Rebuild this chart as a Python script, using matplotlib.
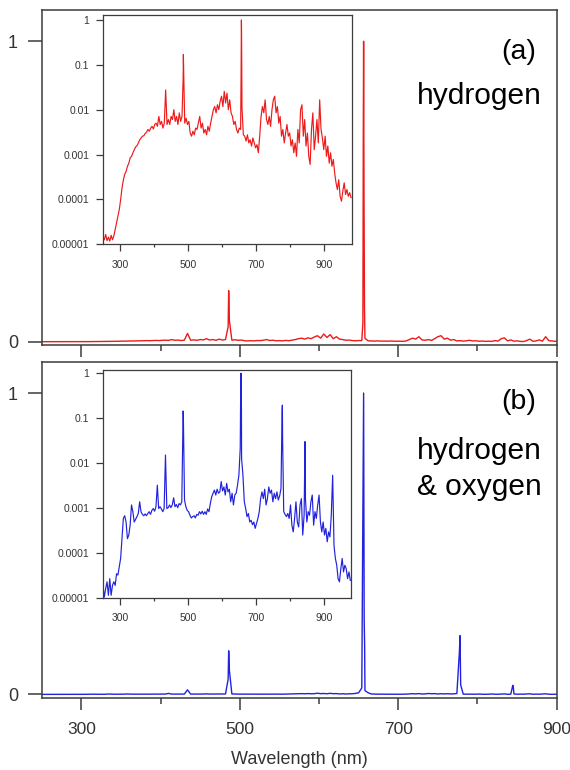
import numpy as np
import matplotlib
matplotlib.use("Agg")
import matplotlib.pyplot as plt
from matplotlib.ticker import FixedLocator, NullLocator, FixedFormatter, NullFormatter

# ---------------- data (log10 of normalised intensity) ----------------
wl_grid = np.arange(250, 979, 4)  # sampling wavelengths (nm)

# (a) hydrogen : continuum + lines on the 4 nm grid
h_cont_log = [
    -4.85, -4.90, -4.78, -4.92, -4.84, -4.93, -4.80, -4.90, -4.81, -4.67,   # 250-286
    -4.52, -4.37, -4.22, -4.00, -3.74, -3.56, -3.44, -3.37, -3.26, -3.19,   # 290-326
    -3.07, -3.04, -2.96, -2.89, -2.83, -2.80, -2.74, -2.67, -2.63, -2.59,   # 330-366
    -2.58, -2.53, -2.50, -2.44, -2.48, -2.41, -2.37, -2.43, -2.33, -2.30,   # 370-406
    -2.37, -2.15, -2.33, -2.26, -2.41, -2.30, -1.56, -2.33, -2.22, -2.33,   # 410-446
    -2.15, -2.22, -2.00, -2.26, -2.15, -2.33, -2.07, -2.26, -2.15, -0.77,   # 450-486
    -2.30, -2.19, -2.33, -2.26, -2.52, -2.59, -2.48, -2.56, -2.41, -2.44,   # 490-526
    -2.30, -2.15, -2.41, -2.30, -2.52, -2.44, -2.56, -2.37, -2.48, -2.30,   # 530-566
    -2.15, -2.00, -1.93, -2.07, -1.89, -2.00, -1.81, -1.70, -1.93, -1.59,   # 570-606
    -1.85, -1.63, -2.00, -1.78, -2.07, -2.15, -2.33, -2.26, -2.44, -2.52,   # 610-646
    -2.41, -2.44, -1.95, -2.56, -2.59, -2.70, -2.56, -2.74, -2.67, -2.81,   # 650-686
    -2.63, -2.74, -2.85, -2.78, -2.96, -2.59, -2.15, -1.93, -2.07, -1.78,   # 690-726
    -2.22, -2.33, -2.15, -2.37, -2.00, -1.78, -1.70, -2.07, -1.93, -2.30,   # 730-766
    -2.15, -2.59, -2.44, -2.74, -2.52, -2.33, -2.59, -2.52, -2.81, -2.67,   # 770-806
    -2.96, -2.74, -3.04, -2.44, -2.74, -2.00, -1.89, -2.59, -2.22, -2.81,   # 810-846
    -2.52, -3.04, -3.22, -2.44, -2.07, -2.89, -2.59, -2.22, -2.74, -1.78,   # 850-886
    -2.44, -2.63, -2.89, -2.59, -3.04, -2.81, -3.19, -2.96, -3.26, -3.11,   # 890-926
    -3.41, -3.63, -3.78, -3.56, -3.93, -4.04, -3.81, -3.63, -3.89, -3.78,   # 930-966
    -3.93, -3.85, -3.96,                                                    # 970-978
]
h_line_wl = [485.3, 486.9, 655.4, 655.9, 656.3, 656.8, 657.4]
h_line_log = [-1.30, -1.15, -1.20, -0.16, 0.00, -0.31, -0.96]

# (b) hydrogen & oxygen
ho_cont_log = [
    -4.72, -4.98, -4.79, -4.64, -4.94, -4.57, -4.94, -4.72, -4.64, -4.72,   # 250-286
    -4.46, -4.49, -4.31, -4.12, -3.68, -3.23, -3.17, -3.31, -3.68, -3.60,   # 290-326
    -3.38, -2.93, -3.08, -3.31, -3.25, -3.19, -3.12, -2.86, -3.08, -3.14,   # 330-366
    -3.17, -3.13, -3.17, -3.12, -3.08, -3.14, -3.05, -3.01, -3.07, -2.97,   # 370-406
    -2.49, -3.01, -2.97, -3.02, -3.08, -3.01, -1.82, -3.01, -2.99, -2.93,   # 410-446
    -2.99, -2.93, -2.77, -2.97, -2.92, -2.99, -2.90, -2.93, -2.86, -0.84,   # 450-486
    -2.82, -2.97, -3.05, -3.08, -3.16, -3.22, -3.19, -3.17, -3.22, -3.14,   # 490-526
    -3.16, -3.08, -3.13, -3.07, -3.14, -3.08, -3.14, -3.02, -3.08, -2.90,   # 530-566
    -2.75, -2.67, -2.60, -2.71, -2.58, -2.67, -2.64, -2.41, -2.62, -2.53,   # 570-606
    -2.71, -2.45, -2.64, -2.58, -2.86, -2.67, -2.93, -2.71, -2.67, -2.49,   # 610-646
    -2.27, -1.67, -1.90, -2.27, -2.86, -3.01, -3.19, -3.12, -3.31, -3.27,   # 650-686
    -3.37, -3.31, -3.45, -3.34, -3.23, -3.08, -2.79, -2.64, -2.79, -2.58,   # 690-726
    -2.93, -2.79, -2.53, -2.67, -2.60, -2.86, -2.67, -2.79, -2.64, -2.82,   # 730-766
    -2.73, -2.56, -0.71, -3.08, -3.14, -3.19, -3.12, -3.23, -2.93, -3.38,   # 770-806
    -3.53, -3.23, -2.86, -3.31, -3.42, -2.93, -2.79, -3.60, -3.16, -2.80,   # 810-846
    -3.31, -3.08, -3.16, -2.86, -2.71, -3.38, -3.08, -3.23, -2.93, -2.71,   # 850-886
    -3.31, -3.53, -3.31, -3.60, -3.45, -3.75, -3.53, -3.64, -3.16, -2.27,   # 890-926
    -3.83, -4.12, -4.27, -4.57, -4.64, -4.35, -4.12, -4.42, -4.27, -4.35,   # 930-966
    -4.57, -4.42, -4.61,                                                    # 970-978
]
ho_line_wl = [485.3, 486.9, 655.5, 656.3, 657.0, 657.6, 777.2, 778.8, 844.6, 845.3]
ho_line_log = [-1.30, -1.10, -0.20, 0.00, -0.60, -0.80, -0.85, -1.50, -1.52, -1.65]

main_xticks = [300, 500, 700, 900]
main_xminor = [400, 600, 800]
main_yticks = [0, 1]
inset_yticks = [1, 0.1, 0.01, 0.001, 0.0001, 0.00001]
inset_ylabels = ["1", "0.1", "0.01", "0.001", "0.0001", "0.00001"]
panel_tags = ["(a)", "(b)"]


def build(cont, lwl, llog):
    wl = np.concatenate([wl_grid, np.array(lwl, float)])
    lg = np.concatenate([np.array(cont, float), np.array(llog, float)])
    o = np.argsort(wl)
    return wl[o], 10.0 ** lg[o]


h_wl, h_I = build(h_cont_log, h_line_wl, h_line_log)
ho_wl, ho_I = build(ho_cont_log, ho_line_wl, ho_line_log)

FONT = "Liberation Sans"
W, H = 570, 770
fig = plt.figure(figsize=(W / 100, H / 100), dpi=100)
fig.patch.set_facecolor("white")

SPINE = "#3c3c3c"
RED = "#ee1a1a"
BLUE = "#2222dd"
LABC = "#333333"


def px_rect(x0, y0, x1, y1):
    return [x0 / W, 1 - y1 / H, (x1 - x0) / W, (y1 - y0) / H]


def style_main(ax, show_xlabels):
    for s in ax.spines.values():
        s.set_color(SPINE)
        s.set_linewidth(1.1)
    ax.set_xlim(250, 900)
    ax.set_ylim(-0.011, 1.103)
    ax.xaxis.set_major_locator(FixedLocator(main_xticks))
    ax.xaxis.set_minor_locator(FixedLocator(main_xminor))
    ax.yaxis.set_major_locator(FixedLocator(main_yticks))
    ax.yaxis.set_minor_locator(NullLocator())
    ax.tick_params(axis="x", which="major", direction="out", length=8.8, width=1.1,
                   color=SPINE, pad=9, labelsize=12.5, labelcolor=LABC)
    ax.tick_params(axis="x", which="minor", direction="out", length=4.5, width=1.1, color=SPINE)
    ax.tick_params(axis="y", which="major", direction="out", length=10, width=1.1,
                   color=SPINE, pad=7, labelsize=13, labelcolor=LABC)
    ax.set_yticklabels(["0", "1"], fontfamily=FONT)
    if show_xlabels:
        ax.set_xticklabels([str(v) for v in main_xticks], fontfamily=FONT)
    else:
        ax.xaxis.set_major_formatter(NullFormatter())


def style_inset(ax, ytop):
    for s in ax.spines.values():
        s.set_color(SPINE)
        s.set_linewidth(0.9)
    ax.set_yscale("log")
    ax.set_xlim(251, 980)
    ax.set_ylim(1e-5, ytop)
    ax.xaxis.set_major_locator(FixedLocator(main_xticks))
    ax.xaxis.set_minor_locator(FixedLocator(main_xminor))
    ax.yaxis.set_major_locator(FixedLocator(inset_yticks))
    ax.yaxis.set_major_formatter(FixedFormatter(inset_ylabels))
    ax.yaxis.set_minor_locator(NullLocator())
    ax.tick_params(axis="both", which="major", direction="out", length=5, width=0.9,
                   color=SPINE, pad=5, labelsize=7.5, labelcolor=LABC)
    ax.tick_params(axis="x", which="major", pad=6)
    ax.tick_params(axis="x", which="minor", direction="out", length=2.5, width=0.9, color=SPINE)
    for lab in ax.get_xticklabels() + ax.get_yticklabels():
        lab.set_fontfamily(FONT)


# ---- top panel (a) ----
ax1 = fig.add_axes(px_rect(41.7, 10.3, 556.7, 345))
ax1.plot(h_wl, h_I, color=RED, lw=1.0)
style_main(ax1, False)

ins1 = fig.add_axes(px_rect(103.3, 15, 351.7, 244.3))
ins1.plot(h_wl, h_I, color=RED, lw=0.85)
style_inset(ins1, 1.29)

# ---- bottom panel (b) ----
ax2 = fig.add_axes(px_rect(41.7, 362, 556.7, 697.7))
ax2.plot(ho_wl, ho_I, color=BLUE, lw=1.0)
style_main(ax2, True)
ax2.set_xlabel("Wavelength (nm)", fontsize=13, color=LABC, family=FONT, labelpad=10)

ins2 = fig.add_axes(px_rect(103.3, 370, 351.0, 598))
ins2.plot(ho_wl, ho_I, color=BLUE, lw=0.85)
style_inset(ins2, 1.18)

# ---- panel annotations ----
fig.text(536 / W, 1 - 59 / H, panel_tags[0], ha="right", va="baseline",
         fontsize=20.5, family=FONT, color="black")
fig.text(542 / W, 1 - 104 / H, "hydrogen", ha="right", va="baseline",
         fontsize=21.5, family=FONT, color="black")
fig.text(536 / W, 1 - 409 / H, panel_tags[1], ha="right", va="baseline",
         fontsize=20.5, family=FONT, color="black")
fig.text(542 / W, 1 - 459 / H, "hydrogen", ha="right", va="baseline",
         fontsize=21.5, family=FONT, color="black")
fig.text(542 / W, 1 - 495 / H, "& oxygen", ha="right", va="baseline",
         fontsize=21.5, family=FONT, color="black")

fig.savefig("out.png", dpi=100, facecolor="white")
